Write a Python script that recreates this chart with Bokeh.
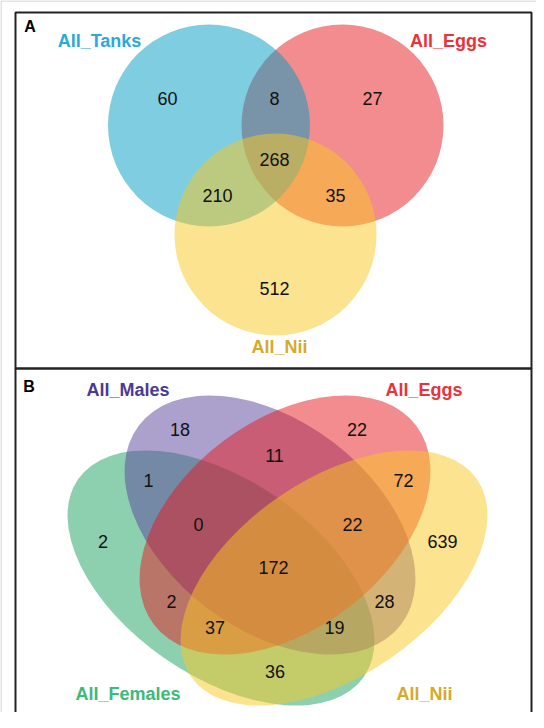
import numpy as np
from bokeh.plotting import figure
from bokeh.models import Range1d
from bokeh.core.properties import value
from bokeh.embed import file_html
from bokeh.resources import INLINE

# ---------------- data ----------------
# Panel A: three-set Venn
setsA = ["All_Tanks", "All_Eggs", "All_Nii"]
regionsA = ["Tanks", "Tanks&Eggs", "Eggs", "Tanks&Eggs&Nii", "Tanks&Nii", "Eggs&Nii", "Nii"]
countsA = [60, 8, 27, 268, 210, 35, 512]

# Panel B: four-set Venn
setsB = ["All_Males", "All_Eggs", "All_Females", "All_Nii"]
regionsB = ["Males", "Eggs", "Males&Eggs", "Females&Males", "Eggs&Nii",
            "Females&Males&Eggs", "Males&Eggs&Nii", "Females", "Nii", "All",
            "Females&Eggs", "Males&Nii", "Females&Eggs&Nii", "Females&Males&Nii",
            "Females&Nii"]
countsB = [18, 22, 11, 1, 72, 0, 22, 2, 639, 172, 2, 28, 37, 19, 36]

# ---------------- layout (reference pixel coords, y downward) ----------------
W, H = 536, 712
TOP = 720.0


def Y(v):
    return [TOP - t for t in v] if isinstance(v, (list, tuple)) else TOP - v


circA_x = {"All_Tanks": 216.5, "All_Eggs": 350.0, "All_Nii": 283.0}
circA_y = {"All_Tanks": 133.0, "All_Eggs": 133.0, "All_Nii": 242.0}
circA_r = 101.0
fillA = {"All_Tanks": "#009BC1", "All_Eggs": "#E5191D", "All_Nii": "#F9C71F"}
labA_col = {"All_Tanks": "#2AA9DA", "All_Eggs": "#EB3238", "All_Nii": "#D6A92C"}
labA_x = {"All_Tanks": 107.0, "All_Eggs": 456.0, "All_Nii": 287.0}
labA_y = {"All_Tanks": 48.0, "All_Eggs": 48.0, "All_Nii": 354.0}
numA_x = [175, 282, 380, 282, 225, 343, 282]
numA_y = [106, 106, 106, 167, 203, 203, 296]

ellB = {
    "All_Females": (228.5, 585.5, 173.7, 98.2, -34.6),
    "All_Males": (277.5, 532.5, 164.6, 104.1, -37.2),
    "All_Eggs": (292.5, 532.5, 164.6, 104.1, 37.2),
    "All_Nii": (341.5, 585.5, 173.7, 98.2, 34.6),
}
fillB = {"All_Females": "#19A161", "All_Males": "#594199",
         "All_Eggs": "#E5191D", "All_Nii": "#F9C71F"}
labB_col = {"All_Females": "#3DB97A", "All_Males": "#4A3A98",
            "All_Eggs": "#EB3238", "All_Nii": "#D6A92C"}
labB_x = {"All_Males": 135.5, "All_Eggs": 431.5, "All_Females": 135.5, "All_Nii": 432.0}
labB_y = {"All_Males": 397.0, "All_Eggs": 397.0, "All_Females": 701.0, "All_Nii": 701.0}
numB_x = [187.5, 364.5, 282, 156, 411, 206, 360, 110.5, 450, 281, 179, 392, 222.5, 342, 282.5]
numB_y = [437, 437, 463, 488, 488, 532, 532, 549, 549, 575, 609, 609, 635, 635, 679]

FONT = value("Liberation Sans")

p = figure(width=W, height=H, output_backend="svg", toolbar_location=None,
           x_range=Range1d(8, 8 + W), y_range=Range1d(0, H),
           x_axis_type=None, y_axis_type=None, min_border=0)
p.outline_line_color = None
p.grid.visible = False
p.background_fill_color = "white"

# outer light frame
p.line(x=[8.5, 8.5], y=Y([8.5, 760]), line_color="#c8c8c8", line_width=1)
p.line(x=[8.5, 560], y=Y([8.5, 8.5]), line_color="#c8c8c8", line_width=1)

# ---- panel A ----
for s in ["All_Eggs", "All_Tanks", "All_Nii"]:
    p.circle(x=circA_x[s], y=Y(circA_y[s]), radius=circA_r,
             fill_color=fillA[s], fill_alpha=0.5, line_color=None)
for s in setsA:
    p.text(x=[labA_x[s]], y=[Y(labA_y[s])], text=[s], text_font=FONT,
           text_font_size="18px", text_font_style="bold", text_color=labA_col[s],
           text_align="center", text_baseline="middle")
p.text(x=numA_x, y=Y(numA_y), text=[str(c) for c in countsA], text_font=FONT,
       text_font_size="18px", text_color="#111111",
       text_align="center", text_baseline="middle")

# ---- panel B ----
for s in ["All_Females", "All_Males", "All_Eggs", "All_Nii"]:
    cx, cy, a, b, ang = ellB[s]
    p.ellipse(x=cx, y=Y(cy), width=2 * a, height=2 * b, angle=np.deg2rad(ang),
              fill_color=fillB[s], fill_alpha=0.5, line_color=None)
for s in setsB:
    p.text(x=[labB_x[s]], y=[Y(labB_y[s])], text=[s], text_font=FONT,
           text_font_size="18px", text_font_style="bold", text_color=labB_col[s],
           text_align="center", text_baseline="middle")
p.text(x=numB_x, y=Y(numB_y), text=[str(c) for c in countsB], text_font=FONT,
       text_font_size="18px", text_color="#111111",
       text_align="center", text_baseline="middle")

# panel letters
p.text(x=[37.5, 36.5], y=Y([33.5, 393.5]), text=["A", "B"], text_font=FONT,
       text_font_size="16px", text_font_style="bold", text_color="#000000",
       text_align="center", text_baseline="middle")

# panel borders
p.quad(left=23, right=539, top=Y(20), bottom=Y(376), fill_color=None,
       line_color="#222222", line_width=2)
p.quad(left=23, right=539, top=Y(376), bottom=Y(760), fill_color=None,
       line_color="#222222", line_width=2)

open("out.html", "w").write(file_html(p, INLINE))
